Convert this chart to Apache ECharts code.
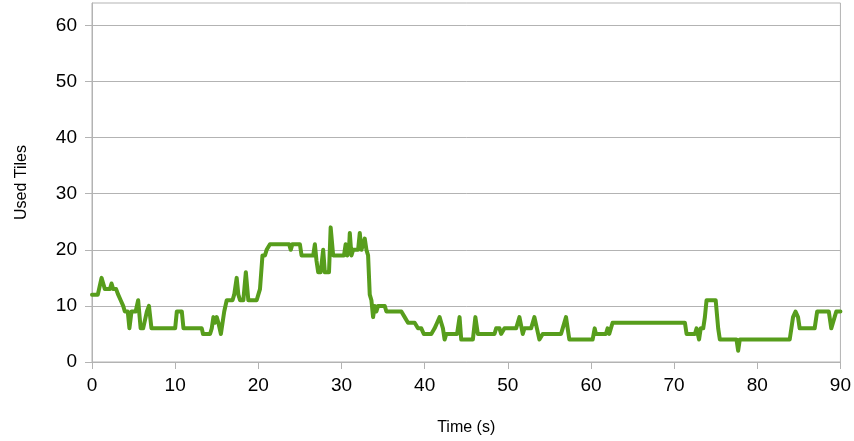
<!DOCTYPE html>
<html>
<head>
<meta charset="utf-8">
<script src="https://cdn.jsdelivr.net/npm/echarts@6/dist/echarts.min.js"></script>
<style>
  html, body { margin: 0; padding: 0; background: #ffffff; }
  #chart { width: 854px; height: 441px; }
</style>
</head>
<body>
<div id="chart"></div>
<script>
// Sample times (seconds) and number of tiles in use at each sample
const timeSec = [
  0, 0.7, 1.0, 1.15, 1.35, 1.55, 2.15, 2.35, 2.55, 2.9, 3.15, 3.45, 3.75, 3.95, 4.3, 4.5, 4.75, 5.25, 5.55, 5.85,
  6.15, 6.45, 6.6, 6.85, 7.15, 10.0, 10.2, 10.8, 11.0, 13.2, 13.35, 14.2, 14.4, 14.6, 14.8, 15.0, 15.2, 15.5, 15.7, 15.9,
  16.2, 16.9, 17.1, 17.4, 17.6, 17.8, 18.2, 18.5, 18.8, 19.8, 20.0, 20.2, 20.5, 20.8, 21.0, 21.4, 23.7, 23.9, 24.1, 25.0,
  25.2, 26.6, 26.8, 27.0, 27.2, 27.5, 27.8, 28.0, 28.5, 28.7, 29.0, 30.3, 30.5, 30.7, 30.9, 31.0, 31.2, 31.4, 32.0, 32.2,
  32.4, 32.6, 32.8, 33.0, 33.2, 33.4, 33.6, 33.8, 34.0, 34.2, 34.4, 35.2, 35.4, 37.2, 37.6, 38.0, 38.8, 39.2, 39.6, 39.9,
  40.2, 40.8, 41.2, 41.5, 41.8, 42.0, 42.2, 42.4, 42.6, 43.9, 44.2, 44.4, 45.8, 46.1, 46.4, 48.4, 48.6, 49.0, 49.2, 49.4,
  49.6, 51.0, 51.4, 51.8, 52.0, 52.8, 53.2, 53.5, 53.8, 54.2, 56.4, 56.6, 57.0, 57.2, 57.4, 60.2, 60.45, 60.6, 60.8, 61.8,
  62.0, 62.2, 62.6, 71.3, 71.5, 72.5, 72.7, 73.0, 73.2, 73.5, 73.7, 73.9, 75.0, 75.3, 75.5, 77.5, 77.7, 77.9, 83.9, 84.1,
  84.3, 84.6, 84.9, 85.1, 86.9, 87.2, 88.6, 88.9, 89.3, 89.5, 90
];
const usedTiles = [
  12, 12, 14, 15, 14, 13, 13, 14, 13, 13, 12, 11, 10, 9, 9, 6, 9, 9, 11, 6,
  6, 8, 9, 10, 6, 6, 9, 9, 6, 6, 5, 5, 6, 8, 7, 8, 7, 5, 7, 9,
  11, 11, 12, 15, 12, 11, 11, 16, 11, 11, 12, 13, 19, 19, 20, 21, 21, 20, 21, 21,
  19, 19, 21, 18, 16, 16, 20, 16, 16, 24, 19, 19, 21, 19, 20, 23, 19, 20, 20, 23,
  20, 21, 22, 20, 19, 12, 11, 8, 10, 9, 10, 10, 9, 9, 8, 7, 7, 6, 6, 5,
  5, 5, 6, 7, 8, 7, 6, 4, 5, 5, 8, 4, 4, 8, 5, 5, 6, 6, 5, 5,
  6, 6, 8, 5, 6, 6, 8, 6, 4, 5, 5, 6, 8, 6, 4, 4, 6, 5, 5, 5,
  6, 5, 7, 7, 5, 5, 6, 4, 6, 6, 8, 11, 11, 6, 4, 4, 2, 4, 4, 6,
  8, 9, 8, 6, 6, 9, 9, 6, 8, 9, 9
];
const yTickValues = [0, 10, 20, 30, 40, 50, 60];

const points = timeSec.map((t, i) => [t, usedTiles[i]]);

const chart = echarts.init(document.getElementById('chart'), null, { renderer: 'canvas' });
const axisGrey = '#b3b3b3';
const font = 'Liberation Sans';

chart.setOption({
  animation: false,
  backgroundColor: '#ffffff',
  grid: {
    left: 92, right: 13, top: 3, bottom: 79,
    show: true, borderColor: axisGrey, borderWidth: 1
  },
  xAxis: {
    type: 'value',
    min: 0, max: 90, interval: 10,
    name: 'Time (s)',
    nameLocation: 'middle',
    nameGap: 58,
    nameTextStyle: { fontFamily: font, fontSize: 16, color: '#000' },
    axisLine: { show: true, lineStyle: { color: axisGrey, width: 1 } },
    axisTick: { show: true, length: 7, lineStyle: { color: axisGrey } },
    axisLabel: { fontFamily: font, fontSize: 19, color: '#000', margin: 14 },
    splitLine: { show: false }
  },
  yAxis: {
    type: 'value',
    min: 0, max: 64,
    name: 'Used Tiles',
    nameLocation: 'middle',
    nameGap: 62,
    nameTextStyle: { fontFamily: font, fontSize: 16, color: '#000' },
    axisLine: { show: true, lineStyle: { color: axisGrey, width: 1 } },
    axisTick: { show: true, length: 7, lineStyle: { color: axisGrey }, customValues: yTickValues },
    axisLabel: { fontFamily: font, fontSize: 19, color: '#000', margin: 15, customValues: yTickValues },
    splitLine: { show: true, lineStyle: { color: axisGrey, width: 1 } }
  },
  series: [{
    type: 'line',
    data: points,
    showSymbol: false,
    lineStyle: { color: '#579d1c', width: 4, join: 'round', cap: 'round' },
    itemStyle: { color: '#579d1c' }
  }]
});
</script>
</body>
</html>
